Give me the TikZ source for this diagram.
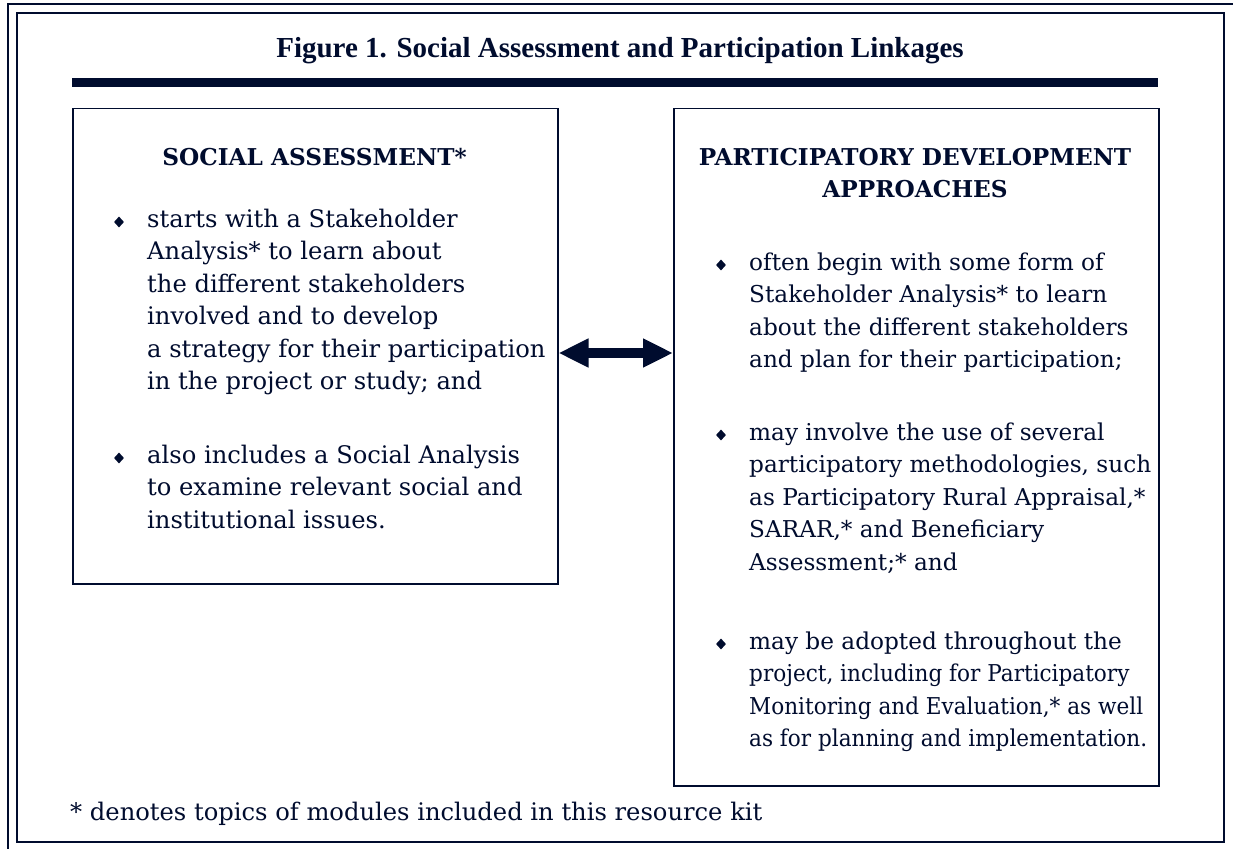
\documentclass[tikz,border=0pt]{standalone}
\usepackage{fontspec}
\setmainfont{DejaVu Serif}
\newfontfamily\titlefamily{Liberation Serif}
\newfontfamily\condfamily{DejaVu Serif}[FakeStretch=0.93]
\usetikzlibrary{arrows.meta,shapes.geometric}
\definecolor{navy}{RGB}{0,12,46}
\newcommand\bodyfnt{\fontsize{23.2}{32.5}\selectfont}
\newcommand\leftfnt{\fontsize{24.2}{32.5}\selectfont}
\newcommand\headfnt{\fontsize{23.2}{32.5}\selectfont\bfseries}
\newcommand\titlefnt{\titlefamily\fontsize{29}{32}\selectfont\bfseries}
\newcommand\cond[1]{{\condfamily #1}}
\begin{document}
\begin{tikzpicture}[x=1pt,y=-1pt,
  outerframe/.style={draw=navy,line width=1.5pt},
  innerframe/.style={draw=navy,line width=1.8pt},
  panel/.style={draw=navy,line width=1.5pt,inner sep=0pt,anchor=north west},
  body/.style={anchor=north west,inner sep=0pt,align=left,text=navy,font=\bodyfnt},
  leftbody/.style={body,font=\leftfnt},
  heading/.style={inner sep=0pt,align=center,text=navy,font=\headfnt},
  bulletmark/.style={diamond,fill=navy,draw=none,inner sep=0pt,minimum width=10pt,minimum height=11pt},
  dblarrow/.style={draw=navy,line width=10pt,{Triangle[length=30pt,width=27pt]}-{Triangle[length=30pt,width=27pt]}}
]
\useasboundingbox (0,0) rectangle (1233,848);
\clip (0,0) rectangle (1233,848);
\fill[white] (0,0) rectangle (1233,848);
% frames
\draw[outerframe] (8,4) rectangle (1260,870);
\draw[innerframe] (17,13) rectangle (1224,842);
% title
\node[inner sep=0pt,anchor=base,text=navy,font=\titlefnt] (title) at (620,58) {Figure 1. Social Assessment and Participation Linkages};
\fill[navy] (72,78) rectangle (1158,87);
% panels
\node[panel,minimum width=485pt,minimum height=475pt] (lbox) at (72,108) {};
\node[panel,minimum width=485pt,minimum height=677pt] (rbox) at (673,108) {};
% left panel
\node[heading,anchor=base] (lhead) at (314.5,165) {SOCIAL ASSESSMENT*};
\node[bulletmark] (lb1) at (119,222) {};
\node[leftbody] (lt1) at (147,204.25) {\strut starts with a Stakeholder\\Analysis* to learn about\\the different stakeholders\\involved and to develop\\a strategy for their participation\\in the project or study; and};
\node[bulletmark] (lb2) at (119,458) {};
\node[leftbody] (lt2) at (147,440.25) {\strut also includes a Social Analysis\\to examine relevant social and\\institutional issues.};
% right panel
\node[heading,anchor=north] (rhead) at (915,142.25) {\strut PARTICIPATORY DEVELOPMENT\\APPROACHES};
\node[bulletmark] (rb1) at (721,265) {};
\node[body] (rt1) at (749,247.25) {\strut often begin with some form of\\Stakeholder Analysis* to learn\\about the different stakeholders\\and plan for their participation;};
\node[bulletmark] (rb2) at (721,435) {};
\node[body] (rt2) at (749,417.25) {\strut may involve the use of several\\participatory methodologies, such\\as Participatory Rural Appraisal,*\\SARAR,* and Beneficiary\\Assessment;* and};
\node[bulletmark] (rb3) at (721,644) {};
\node[body] (rt3) at (749,626.25) {\strut may be adopted throughout the\\\cond{project, including for Participatory}\\\cond{Monitoring and Evaluation,* as well}\\\cond{as for planning and implementation.}};
% connector
\coordinate (arrowy) at (0,353);
\draw[dblarrow] (lbox.east |- arrowy) -- (rbox.west |- arrowy);
% footnote
\node[inner sep=0pt,anchor=base west,text=navy,font=\leftfnt] (foot) at (70,820) {* denotes topics of modules included in this resource kit};
\end{tikzpicture}
\end{document}
